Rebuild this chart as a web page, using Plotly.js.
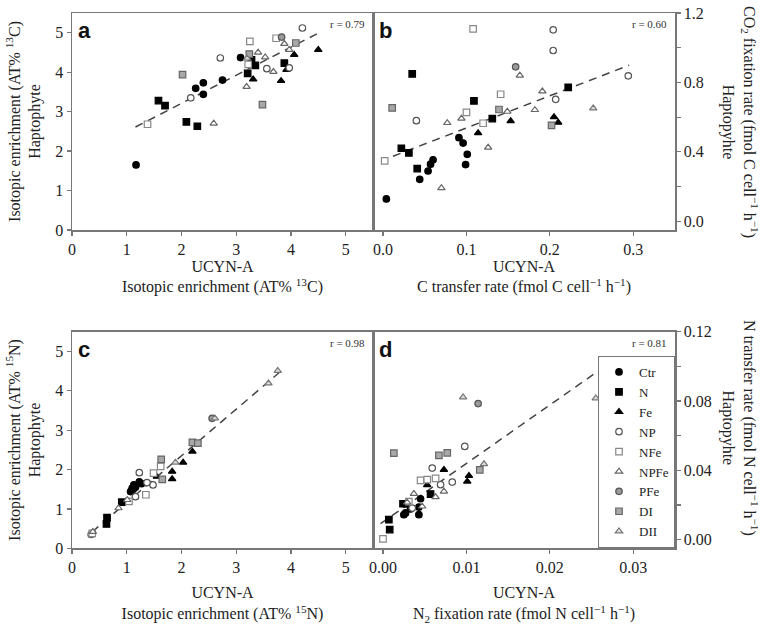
<!DOCTYPE html>
<html><head><meta charset="utf-8">
<script src="https://cdn.plot.ly/plotly-3.0.1.min.js"></script>
<style>html,body{margin:0;padding:0;background:#fff}#plot{width:764px;height:625px}</style>
</head><body><div id="plot"></div>
<script>
// ---- data: [x, y] pairs ----
const groups = ['Ctr','N','Fe','NP','NFe','NPFe','PFe','DI','DII'];

// panel a: isotopic enrichment 13C, UCYN-A vs haptophyte
const A_Ctr  = [[1.17,1.65],[2.26,3.59],[2.40,3.73],[2.40,3.44],[2.75,3.80],[3.08,4.37]];
const A_N    = [[1.58,3.28],[1.70,3.15],[2.09,2.74],[2.29,2.63],[3.21,3.97],[3.28,4.31],[3.35,4.17],[3.88,4.23]];
const A_Fe   = [[3.31,3.82],[3.82,3.78],[3.92,4.06],[4.06,4.44],[4.50,4.57]];
const A_NP   = [[2.17,3.35],[2.71,4.36],[3.56,4.09],[3.97,4.11],[4.21,5.12]];
const A_NFe  = [[1.38,2.68],[3.25,4.78],[3.22,4.20],[3.73,4.86]];
const A_NPFe = [[2.59,2.70],[3.19,3.63],[3.40,4.50],[3.53,4.38],[3.68,4.01],[3.88,4.72],[3.97,4.57]];
const A_PFe  = [[3.83,4.89]];
const A_DI   = [[2.02,3.94],[3.24,4.46],[3.48,3.18],[4.09,4.74]];
const A_DII  = [[3.20,4.35]];
const trendA = [[1.16,2.61],[4.50,4.99]];

// panel b: C transfer rate vs CO2 fixation rate
const B_Ctr  = [[0.004,0.129],[0.044,0.242],[0.054,0.290],[0.057,0.329],[0.060,0.354],[0.091,0.482],[0.096,0.451],[0.101,0.386],[0.099,0.327]];
const B_N    = [[0.022,0.421],[0.031,0.394],[0.035,0.849],[0.041,0.304],[0.109,0.694],[0.131,0.592],[0.222,0.772]];
const B_Fe   = [[0.114,0.509],[0.153,0.578],[0.205,0.601],[0.210,0.569]];
const B_NP   = [[0.040,0.580],[0.204,1.103],[0.204,0.984],[0.207,0.703],[0.294,0.838]];
const B_NFe  = [[0.002,0.348],[0.108,1.109],[0.100,0.628],[0.120,0.565],[0.141,0.732]];
const B_NPFe = [[0.070,0.192],[0.077,0.567],[0.094,0.592],[0.126,0.425],[0.149,0.632],[0.164,0.840],[0.182,0.642],[0.191,0.749]];
const B_PFe  = [[0.159,0.890]];
const B_DI   = [[0.011,0.653],[0.139,0.644],[0.202,0.553]];
const B_DII  = [[0.252,0.651]];
const trendB = [[0.012,0.375],[0.295,0.899]];

// panel c: isotopic enrichment 15N
const C_Ctr  = [[1.07,1.44],[1.10,1.53],[1.13,1.61],[1.16,1.55],[1.23,1.69],[1.27,1.64],[1.12,1.50]];
const C_N    = [[0.63,0.62],[0.64,0.78],[0.91,1.17]];
const C_Fe   = [[1.55,1.82],[1.83,1.95],[1.83,1.76],[2.03,2.18],[2.20,2.46]];
const C_NP   = [[0.35,0.35],[1.23,1.92],[1.48,1.61],[1.16,1.31],[1.37,1.67]];
const C_NFe  = [[0.37,0.38],[1.49,1.91],[1.62,2.08],[1.35,1.36],[1.04,1.19]];
const C_NPFe = [[0.85,1.02],[1.01,1.23],[0.38,0.42]];
const C_PFe  = [[2.56,3.30]];
const C_DI   = [[1.63,2.26],[1.65,1.75],[2.20,2.69],[2.30,2.67]];
const C_DII  = [[1.89,2.18],[2.61,3.30],[3.59,4.19],[3.76,4.51]];
const trendC = [[0.37,0.42],[3.81,4.49]];

// panel d: N2 fixation rate vs N transfer rate
const D_Ctr  = [[0.0025,0.0144],[0.0027,0.0154],[0.0033,0.0177],[0.0043,0.0144],[0.0045,0.0236],[0.0043,0.0188]];
const D_N    = [[0.0007,0.0115],[0.0008,0.0058],[0.0024,0.0207],[0.0028,0.0207],[0.0057,0.0263]];
const D_Fe   = [[0.0053,0.0315],[0.0073,0.0403],[0.0103,0.0369],[0.0101,0.0336]];
const D_NP   = [[0.0059,0.0413],[0.0069,0.0317],[0.0083,0.0332],[0.0098,0.0538],[0.0035,0.0182]];
const D_NFe  = [[0.0000,0.0004],[0.0045,0.0342],[0.0053,0.0346],[0.0063,0.0353],[0.0031,0.0219]];
const D_NPFe = [[0.0037,0.0265],[0.0063,0.0246],[0.0073,0.0278],[0.0047,0.0192],[0.0029,0.0215]];
const D_PFe  = [[0.0114,0.0785]];
const D_DI   = [[0.0013,0.0499],[0.0067,0.0486],[0.0077,0.0501],[0.0116,0.0403]];
const D_DII  = [[0.0096,0.0822],[0.0255,0.0816],[0.0121,0.0436]];
const trendD = [[-0.0003,0.0092],[0.0258,0.0973]];

const rLabels = ['r = 0.79','r = 0.60','r = 0.98','r = 0.81'];
const panelLetters = ['a','b','c','d'];

// ---- styles ----
const styles = {
  Ctr:  {symbol:'circle',      color:'#000000', line:'#000000'},
  N:    {symbol:'square',      color:'#000000', line:'#000000'},
  Fe:   {symbol:'triangle-up', color:'#000000', line:'#000000'},
  NP:   {symbol:'circle',      color:'#ffffff', line:'#555555'},
  NFe:  {symbol:'square',      color:'#ffffff', line:'#888888'},
  NPFe: {symbol:'triangle-up', color:'#ffffff', line:'#666666'},
  PFe:  {symbol:'circle',      color:'#9a9a9a', line:'#555555'},
  DI:   {symbol:'square',      color:'#a8a8a8', line:'#666666'},
  DII:  {symbol:'triangle-up', color:'#dddddd', line:'#777777'}
};
const panels = [
  {data:{Ctr:A_Ctr,N:A_N,Fe:A_Fe,NP:A_NP,NFe:A_NFe,NPFe:A_NPFe,PFe:A_PFe,DI:A_DI,DII:A_DII}, trend:trendA, xa:'x',  ya:'y'},
  {data:{Ctr:B_Ctr,N:B_N,Fe:B_Fe,NP:B_NP,NFe:B_NFe,NPFe:B_NPFe,PFe:B_PFe,DI:B_DI,DII:B_DII}, trend:trendB, xa:'x2', ya:'y2'},
  {data:{Ctr:C_Ctr,N:C_N,Fe:C_Fe,NP:C_NP,NFe:C_NFe,NPFe:C_NPFe,PFe:C_PFe,DI:C_DI,DII:C_DII}, trend:trendC, xa:'x3', ya:'y3'},
  {data:{Ctr:D_Ctr,N:D_N,Fe:D_Fe,NP:D_NP,NFe:D_NFe,NPFe:D_NPFe,PFe:D_PFe,DI:D_DI,DII:D_DII}, trend:trendD, xa:'x4', ya:'y4'}
];

const traces = [];
panels.forEach((p, pi) => {
  traces.push({
    x: p.trend.map(d => d[0]), y: p.trend.map(d => d[1]),
    xaxis: p.xa, yaxis: p.ya, mode: 'lines', showlegend: false, hoverinfo: 'skip',
    line: {color: '#444', width: 1.5, dash: '8px,6px'}
  });
  groups.forEach(g => {
    const s = styles[g];
    traces.push({
      x: p.data[g].map(d => d[0]), y: p.data[g].map(d => d[1]),
      xaxis: p.xa, yaxis: p.ya, mode: 'markers', type: 'scatter',
      name: g, legendgroup: g, showlegend: pi === 3,
      marker: {symbol: s.symbol, size: 6.5, color: s.color, line: {color: s.line, width: 1.2}}
    });
  });
});

const serif = '"Liberation Serif", "Times New Roman", serif';
const baseAxis = {
  showline: true, mirror: true, linecolor: '#777', linewidth: 1.5,
  ticks: 'outside', ticklen: 4, tickcolor: '#777', tickwidth: 1.2,
  showgrid: false, zeroline: false,
  tickfont: {family: serif, size: 16, color: '#222'}
};
const titleFont = {family: serif, size: 16, color: '#222'};
const xd1 = [72/764, 373/764], xd2 = [373/764, 675/764];
const yd1 = [1 - 230/625, 1 - 13/625], yd2 = [1 - 548.3/625, 1 - 331.7/625];

const layout = {
  width: 764, height: 625, margin: {l: 0, r: 0, t: 0, b: 0},
  paper_bgcolor: '#fff', plot_bgcolor: '#fff',
  font: {family: serif, size: 16, color: '#222'},
  xaxis: Object.assign({}, baseAxis, {domain: xd1, anchor: 'y', range: [0, 5.5], dtick: 1, tick0: 0,
    title: {text: 'UCYN-A<br>Isotopic enrichment (AT% <sup>13</sup>C)', font: titleFont, standoff: 3}}),
  yaxis: Object.assign({}, baseAxis, {domain: yd1, anchor: 'x', range: [0, 5.5], dtick: 1, tick0: 0,
    title: {text: 'Isotopic enrichment (AT% <sup>13</sup>C)<br>Haptophyte', font: titleFont, standoff: 10}}),
  xaxis2: Object.assign({}, baseAxis, {domain: xd2, anchor: 'y2', range: [-0.012, 0.35], dtick: 0.1, tick0: 0, tickformat: '.1f',
    title: {text: 'UCYN-A<br>C transfer rate (fmol C cell<sup>−1</sup> h<sup>−1</sup>)', font: titleFont, standoff: 3}}),
  yaxis2: Object.assign({}, baseAxis, {domain: yd1, anchor: 'x2', side: 'right', range: [-0.05, 1.2], dtick: 0.4, tick0: 0, tickformat: '.1f',
    minor: {dtick: 0.2, tick0: 0, ticks: 'outside', ticklen: 4, tickcolor: '#777'}}),
  xaxis3: Object.assign({}, baseAxis, {domain: xd1, anchor: 'y3', range: [0, 5.5], dtick: 1, tick0: 0,
    title: {text: 'UCYN-A<br>Isotopic enrichment (AT% <sup>15</sup>N)', font: titleFont, standoff: 12}}),
  yaxis3: Object.assign({}, baseAxis, {domain: yd2, anchor: 'x3', range: [0, 5.5], dtick: 1, tick0: 0,
    title: {text: 'Isotopic enrichment (AT% <sup>15</sup>N)<br>Haptophyte', font: titleFont, standoff: 10}}),
  xaxis4: Object.assign({}, baseAxis, {domain: xd2, anchor: 'y4', range: [-0.0012, 0.035], dtick: 0.01, tick0: 0, tickformat: '.2f',
    title: {text: 'UCYN-A<br>N<sub>2</sub> fixation rate (fmol N cell<sup>−1</sup> h<sup>−1</sup>)', font: titleFont, standoff: 12}}),
  yaxis4: Object.assign({}, baseAxis, {domain: yd2, anchor: 'x4', side: 'right', range: [-0.005, 0.12], dtick: 0.04, tick0: 0, tickformat: '.2f',
    minor: {dtick: 0.02, tick0: 0, ticks: 'outside', ticklen: 4, tickcolor: '#777'}}),
  legend: {x: 675/764, xanchor: 'right', y: 1 - 548/625, yanchor: 'bottom',
    bgcolor: '#fff', bordercolor: '#777', borderwidth: 1,
    font: {family: serif, size: 13, color: '#222'}, tracegroupgap: 0, itemwidth: 30},
  annotations: [],
  showlegend: true
};

// panel letters and r-values
['x','x2','x3','x4'].forEach((xa, i) => {
  const ya = ['y','y2','y3','y4'][i];
  layout.annotations.push({xref: xa + ' domain', yref: ya + ' domain', x: 0.012, y: 0.985,
    xanchor: 'left', yanchor: 'top', showarrow: false, text: '<b>' + panelLetters[i] + '</b>',
    font: {family: '"Liberation Sans", Arial, sans-serif', size: 22, color: '#111'}});
  layout.annotations.push({xref: xa + ' domain', yref: ya + ' domain', x: 0.98, y: 0.985,
    xanchor: 'right', yanchor: 'top', showarrow: false, text: rLabels[i],
    font: {family: serif, size: 11, color: '#333'}});
});
// right-hand axis titles (read top to bottom)
layout.annotations.push({xref: 'paper', yref: 'paper', x: 740/764, y: 1 - 122/625, xanchor: 'center', yanchor: 'middle',
  textangle: 90, showarrow: false, font: titleFont,
  text: 'CO<sub>2</sub> fixation rate (fmol C cell<sup>−1</sup> h<sup>−1</sup>)<br>Haptopyhte'});
layout.annotations.push({xref: 'paper', yref: 'paper', x: 740/764, y: 1 - 428/625, xanchor: 'center', yanchor: 'middle',
  textangle: 90, showarrow: false, font: titleFont,
  text: 'N transfer rate (fmol N cell<sup>−1</sup> h<sup>−1</sup>)<br>Haptopyhte'});

Plotly.newPlot('plot', traces, layout, {staticPlot: true, displayModeBar: false});
</script></body></html>
